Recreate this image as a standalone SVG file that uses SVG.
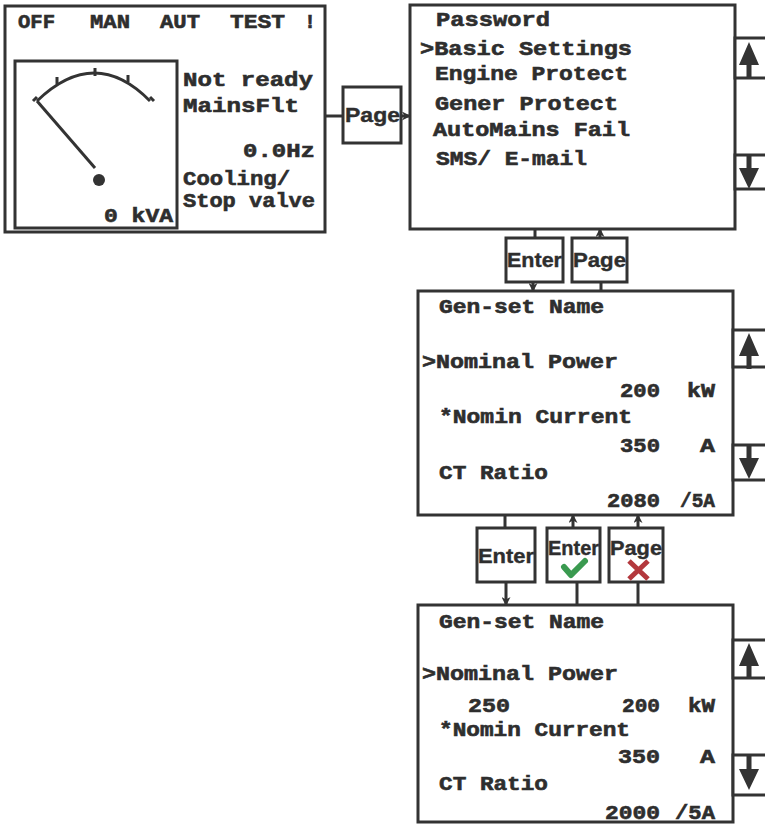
<svg xmlns="http://www.w3.org/2000/svg" width="765" height="825" viewBox="0 0 765 825">
<style>
.frame{fill:#fff;stroke:#333;stroke-width:3}
.btn{fill:#fff;stroke:#333;stroke-width:3}
.ln{stroke:#333;stroke-width:3;fill:none}
.t{font-family:"Liberation Mono","DejaVu Sans Mono",monospace;font-weight:bold;font-size:20px;fill:#2e2e2e;stroke:#2e2e2e;stroke-width:0.6}
.b{font-family:"Liberation Sans Narrow","Liberation Sans",sans-serif;font-weight:bold;font-size:21px;fill:#2e2e2e;stroke:#2e2e2e;stroke-width:0.4}
.ic{fill:#333}
</style>
<defs>
<marker id="arr" viewBox="0 0 10 10" refX="9" refY="5" markerWidth="10" markerHeight="9" markerUnits="userSpaceOnUse" orient="auto">
<path d="M0,0 L10,5 L0,10 L3,5 Z" fill="#333"/>
</marker>
<path id="upIc" class="ic" d="M14,4 L24,27 L16.5,27 L16.5,40 L11.5,40 L11.5,27 L4,27 Z"/>
<path id="dnIc" class="ic" d="M11.5,0 L16.5,0 L16.5,13 L24,13 L14,34 L4,13 L11.5,13 Z"/>
</defs>
<rect width="765" height="825" fill="#fff"/>

<g id="connectors">
<line class="ln" x1="325" y1="116" x2="343" y2="116"/>
<line class="ln" x1="401" y1="116" x2="410" y2="116" marker-end="url(#arr)"/>
<line class="ln" x1="535" y1="229" x2="535" y2="238"/>
<line class="ln" x1="533" y1="282" x2="533" y2="291" marker-end="url(#arr)"/>
<line class="ln" x1="600" y1="238" x2="600" y2="229" marker-end="url(#arr)"/>
<line class="ln" x1="601" y1="282" x2="601" y2="291"/>
<line class="ln" x1="505" y1="515" x2="505" y2="528"/>
<line class="ln" x1="506" y1="582" x2="506" y2="605" marker-end="url(#arr)"/>
<line class="ln" x1="573" y1="528" x2="573" y2="515" marker-end="url(#arr)"/>
<line class="ln" x1="577" y1="582" x2="577" y2="605"/>
<line class="ln" x1="638" y1="528" x2="638" y2="515" marker-end="url(#arr)"/>
<line class="ln" x1="638" y1="582" x2="638" y2="605"/>
</g>

<g id="main-screen">
<rect class="frame" x="5" y="6" width="320" height="226"/>
<text class="t" x="18" y="28" textLength="37" lengthAdjust="spacingAndGlyphs">OFF</text>
<text class="t" x="90" y="28" textLength="40" lengthAdjust="spacingAndGlyphs">MAN</text>
<text class="t" x="160" y="28" textLength="40" lengthAdjust="spacingAndGlyphs">AUT</text>
<text class="t" x="230" y="28" textLength="55" lengthAdjust="spacingAndGlyphs">TEST</text>
<text class="t" x="304" y="28">!</text>
<rect class="frame" x="15" y="61" width="162" height="167"/>
<path class="ln" d="M37,101 Q95,45 150,101" stroke-width="4"/>
<path class="ln" d="M57,77 l0,7 M95,68 l0,8 M128,75 l0,7 M37,97 l-4,4 M150,97 l4,4" stroke-width="3"/>
<line class="ln" x1="37" y1="101" x2="95" y2="168" stroke-width="4"/>
<circle cx="99" cy="180" r="6" fill="#333"/>
<text class="t" x="104" y="222" textLength="69" lengthAdjust="spacingAndGlyphs">0 kVA</text>
<text class="t" x="183" y="86" textLength="130" lengthAdjust="spacingAndGlyphs">Not ready</text>
<text class="t" x="183" y="112" textLength="116" lengthAdjust="spacingAndGlyphs">MainsFlt</text>
<text class="t" x="243" y="157" textLength="72" lengthAdjust="spacingAndGlyphs">0.0Hz</text>
<text class="t" x="183" y="185" textLength="107" lengthAdjust="spacingAndGlyphs">Cooling/</text>
<text class="t" x="183" y="207" textLength="132" lengthAdjust="spacingAndGlyphs">Stop valve</text>
</g>

<g id="btn-page-1">
<rect class="btn" x="343" y="87" width="58" height="56"/>
<text class="b" x="345" y="122" textLength="55" lengthAdjust="spacingAndGlyphs">Page</text>
</g>

<g id="menu-screen">
<rect class="frame" x="410" y="5" width="325" height="224"/>
<rect class="btn" x="735" y="38" width="35" height="40"/>
<use href="#upIc" x="735" y="38"/>
<rect class="btn" x="735" y="155" width="35" height="34"/>
<use href="#dnIc" x="735" y="155"/>
<text class="t" x="436" y="26" textLength="114" lengthAdjust="spacingAndGlyphs">Password</text>
<text class="t" x="420" y="55" textLength="212" lengthAdjust="spacingAndGlyphs">&gt;Basic Settings</text>
<text class="t" x="435" y="80" textLength="193" lengthAdjust="spacingAndGlyphs">Engine Protect</text>
<text class="t" x="435" y="110" textLength="183" lengthAdjust="spacingAndGlyphs">Gener Protect</text>
<text class="t" x="433" y="136" textLength="197" lengthAdjust="spacingAndGlyphs">AutoMains Fail</text>
<text class="t" x="436" y="165" textLength="151" lengthAdjust="spacingAndGlyphs">SMS/ E-mail</text>
</g>

<g id="btn-enter-1">
<rect class="btn" x="506" y="238" width="57" height="44"/>
<text class="b" x="507" y="267" textLength="55" lengthAdjust="spacingAndGlyphs">Enter</text>
</g>
<g id="btn-page-2">
<rect class="btn" x="572" y="238" width="55" height="44"/>
<text class="b" x="573" y="267" textLength="53" lengthAdjust="spacingAndGlyphs">Page</text>
</g>

<g id="basic-settings">
<rect class="frame" x="418" y="291" width="315" height="224"/>
<rect class="btn" x="733" y="330" width="37" height="37"/>
<use href="#upIc" x="735" y="329"/>
<rect class="btn" x="733" y="445" width="37" height="35"/>
<use href="#dnIc" x="735" y="445"/>
<text class="t" x="439" y="313" textLength="165" lengthAdjust="spacingAndGlyphs">Gen-set Name</text>
<text class="t" x="422" y="368" textLength="196" lengthAdjust="spacingAndGlyphs">&gt;Nominal Power</text>
<text class="t" x="620" y="397" textLength="40" lengthAdjust="spacingAndGlyphs">200</text>
<text class="t" x="687" y="397" textLength="28" lengthAdjust="spacingAndGlyphs">kW</text>
<text class="t" x="439" y="423" textLength="193" lengthAdjust="spacingAndGlyphs">*Nomin Current</text>
<text class="t" x="620" y="452" textLength="40" lengthAdjust="spacingAndGlyphs">350</text>
<text class="t" x="700" y="452" textLength="15" lengthAdjust="spacingAndGlyphs">A</text>
<text class="t" x="439" y="479" textLength="109" lengthAdjust="spacingAndGlyphs">CT Ratio</text>
<text class="t" x="607" y="507" textLength="53" lengthAdjust="spacingAndGlyphs">2080</text>
<text class="t" x="680" y="507" textLength="35" lengthAdjust="spacingAndGlyphs">/5A</text>
</g>

<g id="btn-enter-2">
<rect class="btn" x="477" y="528" width="58" height="54"/>
<text class="b" x="478" y="563" textLength="56" lengthAdjust="spacingAndGlyphs">Enter</text>
</g>
<g id="btn-enter-ok">
<rect class="btn" x="547" y="528" width="53" height="54"/>
<text class="b" x="548" y="555" textLength="51" lengthAdjust="spacingAndGlyphs">Enter</text>
<path d="M564,567 L571,575 L585,561" fill="none" stroke="#3a9a50" stroke-width="6" stroke-linecap="round" stroke-linejoin="round"/>
</g>
<g id="btn-page-cancel">
<rect class="btn" x="609" y="528" width="54" height="54"/>
<text class="b" x="610" y="555" textLength="52" lengthAdjust="spacingAndGlyphs">Page</text>
<path d="M629,561 L648,579 M648,561 L629,579" fill="none" stroke="#b3383d" stroke-width="5"/>
</g>

<g id="edit-value">
<rect class="frame" x="418" y="605" width="315" height="217"/>
<rect class="btn" x="733" y="640" width="37" height="38"/>
<use href="#upIc" x="735" y="639"/>
<rect class="btn" x="733" y="755" width="37" height="40"/>
<use href="#dnIc" x="735" y="756"/>
<text class="t" x="439" y="628" textLength="165" lengthAdjust="spacingAndGlyphs">Gen-set Name</text>
<text class="t" x="422" y="680" textLength="196" lengthAdjust="spacingAndGlyphs">&gt;Nominal Power</text>
<text class="t" x="468" y="712" textLength="42" lengthAdjust="spacingAndGlyphs">250</text>
<text class="t" x="622" y="712" textLength="38" lengthAdjust="spacingAndGlyphs">200</text>
<text class="t" x="688" y="712" textLength="27" lengthAdjust="spacingAndGlyphs">kW</text>
<text class="t" x="439" y="736" textLength="191" lengthAdjust="spacingAndGlyphs">*Nomin Current</text>
<text class="t" x="618" y="763" textLength="42" lengthAdjust="spacingAndGlyphs">350</text>
<text class="t" x="700" y="763" textLength="15" lengthAdjust="spacingAndGlyphs">A</text>
<text class="t" x="439" y="790" textLength="109" lengthAdjust="spacingAndGlyphs">CT Ratio</text>
<text class="t" x="605" y="819" textLength="55" lengthAdjust="spacingAndGlyphs">2000</text>
<text class="t" x="675" y="819" textLength="40" lengthAdjust="spacingAndGlyphs">/5A</text>
</g>
</svg>
